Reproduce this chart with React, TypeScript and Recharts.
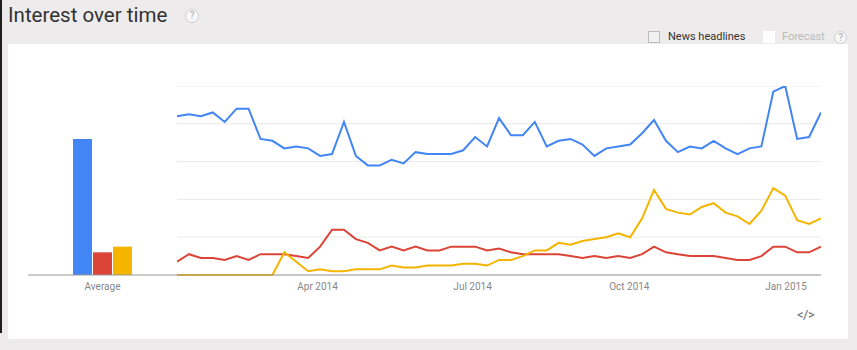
import React from "react";
import { BarChart, Bar, LineChart, Line, XAxis, YAxis, CartesianGrid } from "recharts";

const weekStarts = [
  "2014-01-05", "2014-01-12", "2014-01-19", "2014-01-26",
  "2014-02-02", "2014-02-09", "2014-02-16", "2014-02-23",
  "2014-03-02", "2014-03-09", "2014-03-16", "2014-03-23", "2014-03-30",
  "2014-04-06", "2014-04-13", "2014-04-20", "2014-04-27",
  "2014-05-04", "2014-05-11", "2014-05-18", "2014-05-25",
  "2014-06-01", "2014-06-08", "2014-06-15", "2014-06-22", "2014-06-29",
  "2014-07-06", "2014-07-13", "2014-07-20", "2014-07-27",
  "2014-08-03", "2014-08-10", "2014-08-17", "2014-08-24", "2014-08-31",
  "2014-09-07", "2014-09-14", "2014-09-21", "2014-09-28",
  "2014-10-05", "2014-10-12", "2014-10-19", "2014-10-26",
  "2014-11-02", "2014-11-09", "2014-11-16", "2014-11-23", "2014-11-30",
  "2014-12-07", "2014-12-14", "2014-12-21", "2014-12-28",
  "2015-01-04", "2015-01-11", "2015-01-18",
];

const blueSeries = [84, 85, 84, 86, 81, 88, 88, 72, 71, 67, 68, 67, 63, 64, 81, 63, 58, 58, 61, 59, 65, 64, 64, 64, 66, 73, 68, 83, 74, 74, 81, 68, 71, 72, 69, 63, 67, 68, 69, 75, 82, 71, 65, 68, 67, 71, 67, 64, 67, 68, 97, 100, 72, 73, 86];
const redSeries = [7, 11, 9, 9, 8, 10, 8, 11, 11, 11, 10, 9, 15, 24, 24, 19, 17, 13, 15, 13, 15, 13, 13, 15, 15, 15, 13, 14, 12, 11, 11, 11, 11, 10, 9, 10, 9, 10, 9, 11, 15, 12, 11, 10, 10, 10, 9, 8, 8, 10, 15, 15, 12, 12, 15];
const yellowSeries = [0, 0, 0, 0, 0, 0, 0, 0, 0, 12, 7, 2, 3, 2, 2, 3, 3, 3, 5, 4, 4, 5, 5, 5, 6, 6, 5, 8, 8, 10, 13, 13, 17, 16, 18, 19, 20, 22, 20, 30, 45, 35, 33, 32, 36, 38, 33, 31, 27, 34, 46, 42, 29, 27, 30];

const averageCategories = ["Average"];
const averageValues = [72, 12, 15];

const tickDays = [90, 181, 273, 365];
const tickLabels = ["Apr 2014", "Jul 2014", "Oct 2014", "Jan 2015"];

const COLORS = ["#4285f4", "#db4437", "#f4b400"];

const dayOf = (s: string) => {
  const [y, m, d] = s.split("-").map(Number);
  return (Date.UTC(y, m - 1, d) - Date.UTC(2014, 0, 1)) / 86400000 + 3.5;
};

const lineData = weekStarts.map((w, i) => ({
  t: dayOf(w),
  a: blueSeries[i],
  b: redSeries[i],
  c: yellowSeries[i],
}));

const barData = averageCategories.map((c) => ({
  name: c,
  a: averageValues[0],
  b: averageValues[1],
  c: averageValues[2],
}));

const FONT = "Roboto, 'Noto Sans', Arial, sans-serif";

const QMark = ({ left, top, size }: { left: number; top: number; size: number }) => (
  <div
    style={{
      position: "absolute",
      left,
      top,
      width: size,
      height: size,
      borderRadius: "50%",
      border: "1px solid #cfcfcf",
      background: "#f7f7f7",
      color: "#aaa",
      fontSize: 10,
      lineHeight: `${size - 2}px`,
      textAlign: "center",
      fontFamily: FONT,
      boxSizing: "border-box",
    }}
  >
    ?
  </div>
);

export default function App() {
  const first = lineData[0].t;
  const last = lineData[lineData.length - 1].t;
  return (
    <div
      style={{
        position: "fixed",
        left: 0,
        top: 0,
        width: 857,
        height: 350,
        background: "#edebeb",
        fontFamily: FONT,
        overflow: "hidden",
      }}
    >
      <div style={{ position: "absolute", left: 0, top: 0, width: 2, height: 333, background: "#1e1e1e" }} />
      <div
        style={{
          position: "absolute",
          left: 8,
          top: 1,
          fontSize: 20.5,
          color: "#333",
          lineHeight: "28px",
          whiteSpace: "nowrap",
        }}
      >
        Interest over time
      </div>
      <QMark left={185} top={9} size={14} />

      <div
        style={{
          position: "absolute",
          left: 648,
          top: 31,
          width: 12,
          height: 12,
          border: "1px solid #bdbdbd",
          background: "#f2f1f1",
          boxSizing: "border-box",
        }}
      />
      <div style={{ position: "absolute", left: 668, top: 29, fontSize: 11, color: "#333", lineHeight: "16px", whiteSpace: "nowrap" }}>
        News headlines
      </div>
      <div style={{ position: "absolute", left: 763, top: 31, width: 12, height: 12, background: "#ffffff" }} />
      <div style={{ position: "absolute", left: 782, top: 29, fontSize: 11, color: "#bbb", lineHeight: "16px", whiteSpace: "nowrap" }}>
        Forecast
      </div>
      <QMark left={834} top={31} size={13} />

      <div style={{ position: "absolute", left: 8, top: 44, width: 840, height: 295, background: "#ffffff" }} />

      <div style={{ position: "absolute", left: 28, top: 86 }}>
        <BarChart
          width={149}
          height={214}
          data={barData}
          margin={{ top: 0, right: 0, bottom: 0, left: 0 }}
          barSize={19}
          barGap={1}
        >
          <XAxis
            dataKey="name"
            height={25}
            axisLine={{ stroke: "#999" }}
            tickLine={false}
            tick={{ fill: "#888", fontSize: 10, fontFamily: FONT }}
          />
          <YAxis hide domain={[0, 100]} />
          <Bar dataKey="a" fill={COLORS[0]} isAnimationActive={false} />
          <Bar dataKey="b" fill={COLORS[1]} isAnimationActive={false} />
          <Bar dataKey="c" fill={COLORS[2]} isAnimationActive={false} />
        </BarChart>
      </div>

      <div style={{ position: "absolute", left: 177, top: 86 }}>
        <LineChart
          width={644}
          height={214}
          data={lineData}
          margin={{ top: 0, right: 0, bottom: 0, left: 0 }}
        >
          <CartesianGrid vertical={false} stroke="#e9e9e9" />
          <XAxis
            dataKey="t"
            type="number"
            domain={[first, last]}
            ticks={tickDays}
            tickFormatter={(v: number) => tickLabels[tickDays.indexOf(v)] ?? ""}
            height={25}
            axisLine={{ stroke: "#999" }}
            tickLine={false}
            tick={{ fill: "#888", fontSize: 10, fontFamily: FONT }}
            interval={0}
          />
          <YAxis hide domain={[0, 100]} ticks={[0, 20, 40, 60, 80, 100]} />
          <Line type="linear" dataKey="b" stroke={COLORS[1]} strokeWidth={2} dot={false} isAnimationActive={false} />
          <Line type="linear" dataKey="c" stroke={COLORS[2]} strokeWidth={2} dot={false} isAnimationActive={false} />
          <Line type="linear" dataKey="a" stroke={COLORS[0]} strokeWidth={2} dot={false} isAnimationActive={false} />
        </LineChart>
      </div>

      <div style={{ position: "absolute", left: 797, top: 306, fontSize: 13, color: "#666", lineHeight: "18px", letterSpacing: -0.5 }}>
        &lt;/&gt;
      </div>
    </div>
  );
}
